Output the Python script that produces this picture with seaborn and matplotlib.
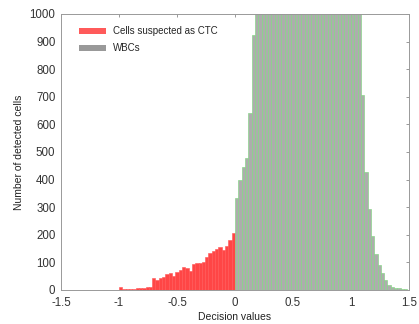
import numpy as np
import pandas as pd
import matplotlib
matplotlib.use("Agg")
import matplotlib.pyplot as plt
from matplotlib.patches import Patch
import seaborn as sns

# Histogram settings (bin width, ~0.0286)
BIN_W = 1.0 / 35

# Counts per bin
# red: decision values from -1 to 0 (35 bins)
ctc_counts = [10, 4, 5, 3, 2, 6, 8, 9, 11, 12,
              42, 36, 45, 48, 58, 63, 50, 66, 72, 84,
              78, 70, 94, 97, 98, 103, 118, 135, 142, 147,
              155, 145, 160, 180, 205]
# green/gray: decision values from 0 upward (52 bins), values above 1000 are clipped
wbc_counts = [333, 398, 446, 478, 641, 924,
              1150, 1350, 1550, 1700, 1850, 1950, 2050, 2100, 2150, 2200,
              2220, 2240, 2250, 2250, 2240, 2220, 2200, 2150, 2100, 2050,
              1950, 1850, 1700, 1550, 1400, 1250, 1150, 1080, 1040, 1010,
              1005, 1002,
              706, 429, 293, 196, 130, 91, 62, 36, 18, 12, 8, 6, 3, 2]

ctc_edges = np.arange(len(ctc_counts) + 1) * BIN_W - 1.0
wbc_edges = np.arange(len(wbc_counts) + 1) * BIN_W
ctc_df = pd.DataFrame({"value": (ctc_edges[:-1] + ctc_edges[1:]) / 2, "count": ctc_counts})
wbc_df = pd.DataFrame({"value": (wbc_edges[:-1] + wbc_edges[1:]) / 2, "count": wbc_counts})

x_ticks = [-1.5, -1, -0.5, 0, 0.5, 1, 1.5]
x_labels = ["-1.5", "-1", "-0.5", "0", "0.5", "1", "1.5"]
y_ticks = list(range(0, 1001, 100))

sns.set_theme(style="white")
plt.rcParams["font.family"] = ["Liberation Sans", "DejaVu Sans"]
plt.rcParams["axes.unicode_minus"] = False

fig = plt.figure(figsize=(4.19, 3.24), dpi=100)
ax = fig.add_axes([61 / 419, 1 - 290 / 324, 348 / 419, 276 / 324])

sns.histplot(data=ctc_df, x="value", weights="count", bins=list(ctc_edges), ax=ax,
             color="#ff4646", edgecolor="#ff5555", linewidth=0.4, alpha=1)
sns.histplot(data=wbc_df, x="value", weights="count", bins=list(wbc_edges), ax=ax,
             color="#adadad", edgecolor="#82d882", linewidth=0.45, alpha=1)

ax.set_xlim(-1.5, 1.5)
ax.set_ylim(0, 1000)
ax.set_xticks(x_ticks)
ax.set_xticklabels(x_labels)
ax.set_yticks(y_ticks)
ax.tick_params(direction="in", length=2.5, width=0.6, color="#888888",
               labelsize=8.3, labelcolor="#333333", top=True, right=True)
ax.tick_params(axis="x", labeltop=False, pad=5)
ax.tick_params(axis="y", labelright=False, pad=4)
for sp in ax.spines.values():
    sp.set_color("#999999")
    sp.set_linewidth(0.7)

ax.set_xlabel("Decision values", fontsize=7.5, color="#222222", labelpad=2)
ax.set_ylabel("Number of detected cells", fontsize=7.5, color="#222222", labelpad=4)

handles = [Patch(facecolor="#ff5a5a", edgecolor="none"),
           Patch(facecolor="#999999", edgecolor="none")]
ax.legend(handles, ["Cells suspected as CTC", "WBCs"], loc="upper left",
          bbox_to_anchor=(0.04, 0.97), frameon=False, fontsize=7,
          handlelength=2.8, handleheight=0.62, handletextpad=0.7,
          labelspacing=0.75, borderaxespad=0)

fig.savefig("out.png", dpi=100)
